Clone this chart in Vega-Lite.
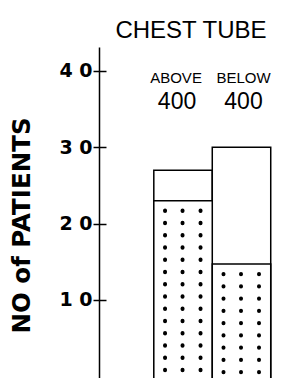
{
  "$schema": "https://vega.github.io/schema/vega-lite/v6.json",
  "autosize": "none",
  "padding": {"left": 99, "top": 47, "right": 10, "bottom": 0},
  "width": 190,
  "height": 331,
  "background": "white",
  "title": {
    "text": "CHEST TUBE",
    "font": "Liberation Sans",
    "fontSize": 24,
    "fontWeight": "normal",
    "color": "black",
    "anchor": "middle",
    "dx": -3,
    "offset": 4
  },
  "data": {
    "values": [
      {"side": "ABOVE", "threshold": "400", "total": 27, "dotted": 23},
      {"side": "BELOW", "threshold": "400", "total": 30, "dotted": 14.7}
    ]
  },
  "encoding": {
    "x": {
      "field": "side",
      "type": "nominal",
      "sort": null,
      "scale": {"paddingInner": 0, "paddingOuter": 0.625, "align": 0.75},
      "axis": null
    }
  },
  "layer": [
    {
      "mark": {"type": "bar", "fill": "white", "stroke": "black", "strokeWidth": 1.5, "clip": true},
      "encoding": {
        "y": {
          "field": "total",
          "type": "quantitative",
          "scale": {"domain": [-0.22, 43.14], "nice": false, "zero": false},
          "axis": {
            "title": "NO of PATIENTS",
            "titleFont": "DejaVu Sans",
            "titleFontSize": 24.5,
            "titleFontWeight": "bold",
            "titleColor": "black",
            "titleAngle": -90,
            "titleAlign": "center",
            "titleBaseline": "middle",
            "titleX": -77,
            "titleY": 178,
            "values": [10, 20, 30, 40],
            "labelExpr": "join(split(datum.label, ''), ' ')",
            "labelFont": "DejaVu Sans",
            "labelFontSize": 19,
            "labelFontWeight": "bold",
            "labelColor": "black",
            "labelPadding": 1,
            "tickSize": 6,
            "tickWidth": 1.5,
            "tickColor": "black",
            "domainColor": "black",
            "domainWidth": 1.5,
            "grid": true,
            "gridColor": "black",
            "gridWidth": 1.5,
            "gridOpacity": 1,
            "gridDash": [7, 400]
          }
        },
        "y2": {"datum": -0.5}
      }
    },
    {
      "mark": {"type": "bar", "fill": "white", "stroke": "black", "strokeWidth": 1.5, "clip": true},
      "encoding": {
        "y": {"field": "dotted", "type": "quantitative"},
        "y2": {"datum": -0.5}
      }
    },
    {
      "mark": {"type": "rule", "color": "black", "strokeWidth": 4, "strokeCap": "round", "strokeDash": [0.3, 11.95], "strokeDashOffset": 2.4, "xOffset": -18, "clip": true},
      "encoding": {
        "y": {"field": "dotted", "type": "quantitative"},
        "y2": {"datum": -0.5}
      }
    },
    {
      "mark": {"type": "rule", "color": "black", "strokeWidth": 4, "strokeCap": "round", "strokeDash": [0.3, 11.95], "strokeDashOffset": 2.4, "xOffset": -0.5, "clip": true},
      "encoding": {
        "y": {"field": "dotted", "type": "quantitative"},
        "y2": {"datum": -0.5}
      }
    },
    {
      "mark": {"type": "rule", "color": "black", "strokeWidth": 4, "strokeCap": "round", "strokeDash": [0.3, 11.95], "strokeDashOffset": 2.4, "xOffset": 17.5, "clip": true},
      "encoding": {
        "y": {"field": "dotted", "type": "quantitative"},
        "y2": {"datum": -0.5}
      }
    },
    {
      "transform": [{"filter": "datum.side == 'ABOVE'"}],
      "layer": [
        {
          "mark": {"type": "text", "font": "Liberation Sans", "fontSize": 15, "color": "black", "baseline": "middle", "dx": -7},
          "encoding": {"text": {"field": "side"}, "y": {"datum": 39.1}}
        },
        {
          "mark": {"type": "text", "font": "Liberation Sans", "fontSize": 23, "color": "black", "baseline": "middle", "dx": -6},
          "encoding": {"text": {"field": "threshold"}, "y": {"datum": 35.9}}
        }
      ]
    },
    {
      "transform": [{"filter": "datum.side == 'BELOW'"}],
      "layer": [
        {
          "mark": {"type": "text", "font": "Liberation Sans", "fontSize": 15, "color": "black", "baseline": "middle", "dx": 2},
          "encoding": {"text": {"field": "side"}, "y": {"datum": 39.1}}
        },
        {
          "mark": {"type": "text", "font": "Liberation Sans", "fontSize": 23, "color": "black", "baseline": "middle", "dx": 2},
          "encoding": {"text": {"field": "threshold"}, "y": {"datum": 35.9}}
        }
      ]
    }
  ],
  "config": {"view": {"stroke": null}}
}
